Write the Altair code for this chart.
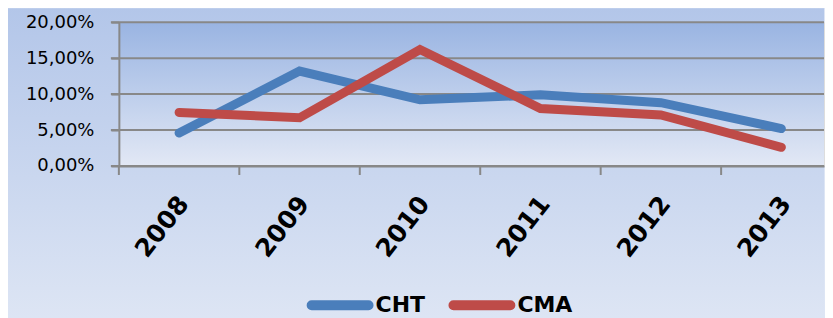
import altair as alt
import pandas as pd

years = [2008, 2009, 2010, 2011, 2012, 2013]
cht = [4.6, 13.2, 9.2, 9.9, 8.8, 5.2]
cma = [7.45, 6.7, 16.2, 8.0, 7.1, 2.6]
series = ["CHT", "CMA"]
colors = ["#4a7ebb", "#be4b48"]
y_ticks = [0.0, 0.05, 0.10, 0.15, 0.20]

rows = []
for name, vals in zip(series, [cht, cma]):
    for yr, v in zip(years, vals):
        rows.append({"year": yr, "value": v / 100.0, "series": name})
df = pd.DataFrame(rows)

W, H = 706, 144
step = 120.6
x_dom = [years[0] - 0.5, years[0] - 0.5 + W / step]

xs = alt.Scale(domain=x_dom, nice=False, zero=False)
ys = alt.Scale(domain=[0, 0.2], nice=False)

x_axis = alt.Axis(values=years, format="d", labelAngle=308, labelAlign="right",
                  labelBaseline="middle", ticks=False, grid=False,
                  labelPadding=33, labelOffset=4, labelFontSize=25,
                  labelFontWeight="bold", labelFont="DejaVu Sans",
                  labelColor="#000000", domainColor="#888888",
                  domainWidth=2, zindex=1, title=None)
y_axis = alt.Axis(values=y_ticks, grid=False, tickSize=8, tickWidth=2,
                  tickColor="#888888", domainColor="#888888", domainWidth=2,
                  labelPadding=17, labelFontSize=18, labelFont="DejaVu Sans",
                  labelColor="#000000", zindex=1, title=None,
                  labelExpr="replace(format(datum.value, '.2%'), '.', ',')")

capsule = ("M-0.919,-0.0806 L0.919,-0.0806 A0.0806,0.0806 0 0 1 0.919,0.0806 "
           "L-0.919,0.0806 A0.0806,0.0806 0 0 1 -0.919,-0.0806 Z")

outer = alt.Chart(alt.Data(values=[{}])).mark_rect(
    fill=alt.Gradient(gradient="linear", x1=0, x2=0, y1=0, y2=1,
                      stops=[alt.GradientStop(color="#b3c6e9", offset=0),
                             alt.GradientStop(color="#dde5f4", offset=1)])
).encode(x=alt.value(-111), x2=alt.value(W), y=alt.value(-14), y2=alt.value(296))

inner = alt.Chart(alt.Data(values=[{}])).mark_rect(
    fill=alt.Gradient(gradient="linear", x1=0, x2=0, y1=0, y2=1,
                      stops=[alt.GradientStop(color="#99b4e2", offset=0),
                             alt.GradientStop(color="#e2e8f5", offset=1)])
).encode(x=alt.value(0), x2=alt.value(W), y=alt.value(0), y2=alt.value(H))

grid = alt.Chart(pd.DataFrame({"value": y_ticks})).mark_rule(
    color="#888888", strokeWidth=2
).encode(y=alt.Y("value:Q", scale=ys, axis=y_axis), x=alt.value(-8), x2=alt.value(W))

bounds = alt.Chart(pd.DataFrame({"year": [y - 0.5 for y in years]})).mark_rule(
    color="#888888", strokeWidth=2
).encode(x=alt.X("year:Q", scale=xs, axis=x_axis), y=alt.value(H), y2=alt.value(H + 9))

lines = alt.Chart(df).mark_line(strokeWidth=9, strokeCap="round").encode(
    x=alt.X("year:Q", scale=xs, axis=x_axis),
    y=alt.Y("value:Q", scale=ys, axis=y_axis),
    color=alt.Color("series:N", scale=alt.Scale(domain=series, range=colors),
                    legend=alt.Legend(title=None, orient="none", direction="horizontal",
                                      legendX=188, legendY=250,
                                      symbolType=capsule, symbolSize=3844,
                                      symbolStrokeWidth=5, labelFontSize=22,
                                      labelFont="DejaVu Sans", labelFontWeight="bold",
                                      labelColor="#000000", labelOffset=2,
                                      columnPadding=15)),
)

chart = alt.layer(outer, inner, grid, bounds, lines).properties(
    width=W, height=H, padding=0, autosize=alt.AutoSizeParams(type="pad")
).configure_view(stroke=None).configure(background="#dde5f4")

chart.save("out.html", embed_options={"renderer": "svg", "actions": False})
